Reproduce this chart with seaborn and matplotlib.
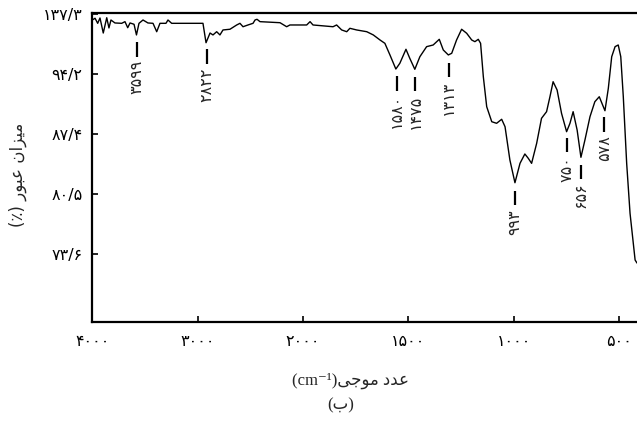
import numpy as np
import pandas as pd
import matplotlib
matplotlib.use("Agg")
import matplotlib.pyplot as plt
import seaborn as sns

# FTIR spectrum
wavenumber = [4000, 3974, 3949, 3927, 3896, 3863, 3842, 3823, 3785, 3721, 3690, 3664,
              3642, 3604, 3581, 3557, 3519, 3472, 3424, 3389, 3358, 3301, 3282, 3247,
              2950, 2921, 2883, 2855, 2820, 2789, 2760, 2694, 2630, 2599, 2570, 2523,
              2475, 2456, 2437, 2409, 2219, 2156, 2125, 1983, 1967, 1953, 1858, 1841,
              1817, 1793, 1778, 1746, 1698, 1667, 1635, 1612, 1588, 1560, 1541, 1512,
              1494, 1470, 1446, 1414, 1383, 1354, 1335, 1311, 1295, 1272, 1248, 1224,
              1200, 1185, 1169, 1158, 1145, 1129, 1105, 1082, 1058, 1042, 1019, 995,
              971, 948, 932, 916, 892, 869, 845, 829, 814, 795, 774, 750,
              734, 719, 700, 682, 663, 639, 616, 595, 579, 568, 552, 536,
              520, 505, 493, 481, 465, 449, 425, 416]
transmittance = [100.41, 100.61, 100.03, 100.64, 98.92, 100.67, 99.5, 100.41, 100.07, 100.03, 100.22, 99.53,
                 100.07, 99.92, 98.7, 100.03, 100.41, 100.07, 100.03, 99.07, 100.03, 100.03, 100.41, 100.03,
                 100.03, 97.81, 98.92, 98.7, 99.07, 98.7, 99.27, 99.35, 99.84, 100.03, 99.64, 99.84,
                 100.03, 100.41, 100.49, 100.22, 100.1, 99.64, 99.84, 99.84, 100.22, 99.84, 99.64, 99.84,
                 99.27, 99.07, 99.46, 99.27, 99.07, 98.7, 98.12, 97.74, 96.41, 94.8, 95.46, 97.06,
                 96.03, 94.77, 96.21, 97.36, 97.55, 98.2, 96.98, 96.41, 96.6, 98.12, 99.35, 98.89,
                 98.12, 97.93, 98.2, 97.74, 93.92, 90.49, 88.77, 88.59, 89.05, 88.2, 84.39, 81.79,
                 84.01, 85.08, 84.59, 84.01, 86.3, 89.16, 89.92, 91.63, 93.35, 92.4, 89.73, 87.63,
                 88.59, 89.92, 87.82, 84.7, 86.68, 89.35, 91.06, 91.63, 90.68, 90.03, 92.6, 96.21,
                 97.36, 97.55, 96.21, 91.63, 84.01, 78.29, 72.95, 72.6]

# marked bands
peak_wn = [3579, 2915, 1556, 1469, 1309, 995, 746, 681, 571]
peak_labels = ["۳۵۹۹", "۲۸۲۲", "۱۵۸۰", "۱۴۷۵", "۱۳۱۳", "۹۹۳", "۷۵۰", "۶۵۶", "۵۷۸"]

x_ticks = [4000, 3000, 2000, 1500, 1000, 500]
x_ticklabels = ["۴۰۰۰", "۳۰۰۰", "۲۰۰۰", "۱۵۰۰", "۱۰۰۰", "۵۰۰"]
y_ticks = [73.6, 80.5, 87.4, 94.2, 101.1]
y_ticklabels = ["۷۳/۶", "۸۰/۵", "۸۷/۴", "۹۴/۲", "۱۳۷/۳"]

# Persian text in visual order with presentation forms (matplotlib does no shaping)
ylabel_fa = "(٪) ﺭﻮﺒﻋ ﻥﺍﺰﻴﻣ"
xlabel_fa = "(cm⁻¹)ﻰﺟﻮﻣ ﺩﺪﻋ"
caption_fa = "(ﺏ)"

df = pd.DataFrame({"wn": wavenumber, "T": transmittance})

sns.set_style("ticks")
plt.rcParams["font.family"] = ["DejaVu Sans"]


# axis is 1000 cm-1 per tick above 2000 and 500 cm-1 per tick below
def fwd(w):
    w = np.asarray(w, dtype=float)
    return np.where(w >= 2000, (w - 2000) / 1000, (w - 2000) / 500)


def inv(u):
    u = np.asarray(u, dtype=float)
    return np.where(u >= 0, 2000 + 1000 * u, 2000 + 500 * u)


fig = plt.figure(figsize=(6.37, 4.25), dpi=100)
ax = fig.add_axes([0.1449, 0.2412, 0.8551, 0.728])
ax.set_xscale("function", functions=(fwd, inv))

sns.lineplot(data=df, x="wn", y="T", color="black", linewidth=1.0, ax=ax)

ax.set_xlim(4000, 416)
ax.set_ylim(65.8, 101.2)
ax.set_xticks(x_ticks)
ax.set_xticklabels(x_ticklabels, fontsize=11.5)
ax.set_yticks(y_ticks)
ax.set_yticklabels(y_ticklabels, fontsize=11.5)
ax.xaxis.set_minor_locator(matplotlib.ticker.NullLocator())
ax.tick_params(direction="in", length=4, width=1.2, colors="black")
ax.tick_params(axis="x", pad=8)
ax.tick_params(axis="y", pad=7)
ax.set_xlabel("")
ax.set_ylabel("")
for side in ["left", "bottom", "top"]:
    ax.spines[side].set_linewidth(1.6)
    ax.spines[side].set_color("black")
ax.spines["right"].set_visible(False)

# band markers: a short dash under each dip and the rotated value
wn_sorted = np.array(wavenumber[::-1], dtype=float)
t_sorted = np.array(transmittance[::-1], dtype=float)
for w, lab in zip(peak_wn, peak_labels):
    t = np.interp(w, wn_sorted, t_sorted)
    ax.vlines(w, t - 2.6, t - 0.95, color="black", linewidth=1.6)
    ax.text(w, t - 3.0, lab, rotation=90, ha="center", va="top", fontsize=11.5)

fig.text(0.028, 0.588, ylabel_fa, rotation=90, ha="center", va="center", fontsize=12)
fig.text(0.55, 0.103, xlabel_fa, ha="center", va="center", fontsize=12,
         family=["Liberation Serif", "DejaVu Sans"])
fig.text(0.535, 0.047, caption_fa, ha="center", va="center", fontsize=12,
         family=["Liberation Serif", "DejaVu Sans"])

fig.savefig("out.png", dpi=100)
